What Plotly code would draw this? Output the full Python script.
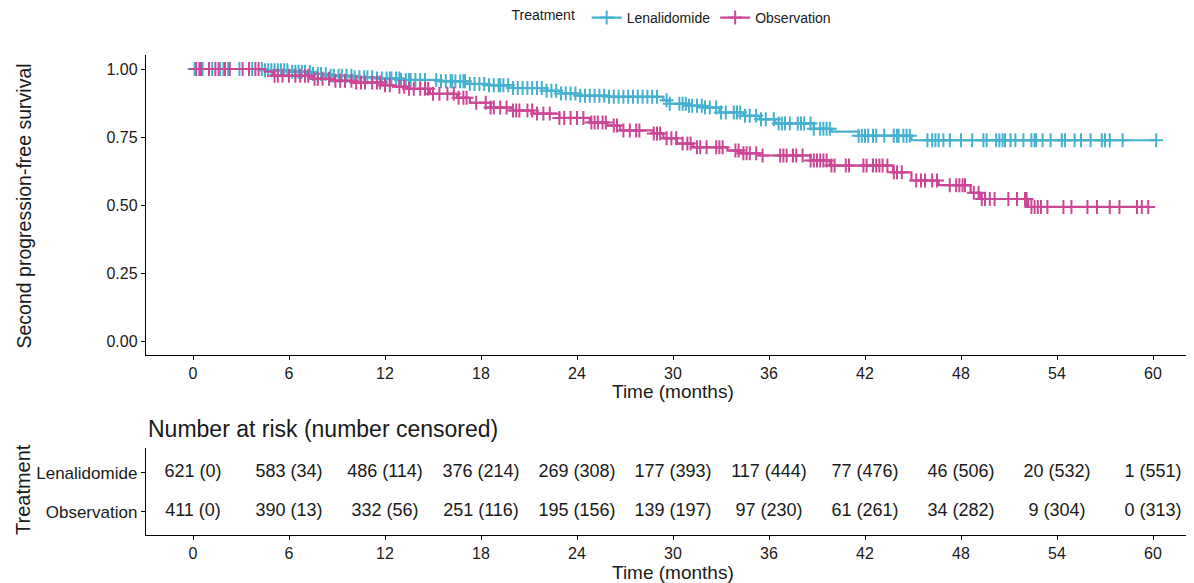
import numpy as np
import plotly.graph_objects as go

# page coordinates of the reference (the browser adds an 8px body margin)
PAGE_W, PAGE_H = 1194, 583
OFF = 8
W, H = PAGE_W - OFF, PAGE_H - OFF

# ---------------- data ----------------
groups = ["Lenalidomide", "Observation"]
colors = {"Lenalidomide": "#45B1CE", "Observation": "#CB4796"}

len_times = [0, 4.5, 6.0, 7.4, 8.5, 10.0, 11.5, 13.0, 15.4, 17.1, 18.5, 20.0, 22.1, 23.0, 24.2,
             26.0, 29.4, 29.8, 31.0, 31.9, 32.9, 34.4, 35.4, 36.4, 38.8, 39.9, 41.6, 44.9]
len_surv = [1.0, 0.995, 0.99, 0.982, 0.975, 0.97, 0.965, 0.96, 0.955, 0.945, 0.94, 0.93, 0.92, 0.91, 0.902,
            0.898, 0.885, 0.872, 0.865, 0.858, 0.84, 0.828, 0.815, 0.80, 0.78, 0.77, 0.755, 0.738]
len_end = 60.2

obs_times = [0, 4.5, 5.0, 7.4, 8.8, 10.0, 11.8, 12.5, 13.4, 14.8, 16.5, 17.3, 18.6, 20.0, 21.25,
             22.9, 24.8, 25.9, 26.7, 28.75, 29.4, 30.25, 31.25, 33.4, 34.2, 35.4, 38.6, 39.8,
             43.75, 44.9, 46.6, 48.6, 49.2, 52.2]
obs_surv = [1.0, 0.99, 0.975, 0.964, 0.957, 0.95, 0.94, 0.935, 0.927, 0.909, 0.894, 0.876, 0.858, 0.847, 0.836,
            0.82, 0.803, 0.792, 0.774, 0.763, 0.745, 0.726, 0.712, 0.70, 0.69, 0.682, 0.664, 0.645,
            0.62, 0.59, 0.573, 0.545, 0.522, 0.493]
obs_end = 59.7

len_censor = [0.1, 0.6, 1.2, 1.7, 1.9, 2.2, 2.9, 3.7,
              4.3, 4.5, 4.7, 4.9, 5.1, 5.3, 5.5, 5.7, 5.9, 6.2, 6.4, 6.6, 6.8, 7.0, 7.3, 7.5, 7.8, 8.0,
              8.3, 8.6, 8.8, 9.1, 9.3, 9.6, 9.9, 10.1, 10.4, 10.7, 10.9, 11.2, 11.5, 11.8,
              12.1, 12.3, 12.4, 12.7, 12.9, 13.0, 13.3, 13.5, 13.6, 13.9, 14.2, 14.5, 15.2, 15.5, 15.8,
              16.1, 16.2, 16.4, 16.7, 16.9, 17.0, 17.3, 17.6, 17.9, 18.2, 18.5, 18.8, 19.1, 19.2, 19.4,
              19.7, 20.0, 20.3, 20.6, 20.9, 21.2, 21.5, 21.8, 22.1, 22.4, 22.7, 23.0, 23.3, 23.6, 23.9,
              24.2, 24.5, 24.8, 25.1, 25.4, 25.7, 26.0, 26.3, 26.6, 26.9, 27.2, 27.5, 27.8, 28.1, 28.4,
              28.7, 29.0, 29.6, 29.8, 30.4, 30.6, 30.8, 31.0, 31.2, 31.5, 31.8, 32.0, 32.3, 32.7, 33.0,
              33.3, 33.8, 34.0, 34.2, 34.5, 34.8, 35.2, 35.5, 35.8, 36.3, 36.6, 36.8, 37.0, 37.3, 37.8,
              38.0, 38.2, 38.6, 38.8, 39.2, 39.4, 39.6, 39.8, 41.6, 41.8, 42.0, 42.2, 42.5, 42.7, 43.2,
              43.8, 44.0, 44.1, 44.4, 44.6, 44.8, 45.9, 46.2, 46.4, 46.6, 46.9, 47.3, 48.0, 48.7, 49.4,
              49.6, 50.2, 50.4, 50.6, 50.75, 51.1, 51.4, 51.9, 52.4, 52.6, 52.7, 53.1, 53.6, 54.3, 54.5,
              55.1, 55.5, 56.1, 56.8, 57.0, 57.3, 58.1, 60.2]

obs_censor = [0.2, 0.4, 0.5, 1.0, 1.4, 1.6, 2.0, 2.3, 3.1, 3.5, 3.9, 4.1, 5.1, 5.3, 5.6, 6.0, 6.4, 6.7,
              7.0, 7.2, 7.6, 7.8, 8.1, 8.5, 8.9, 9.2, 9.5, 9.9, 10.2, 10.5, 10.75, 11.2, 11.5, 11.7, 12.0,
              12.3, 12.9, 13.2, 13.5, 13.8, 14.2, 14.5, 14.7, 15.0, 15.4, 15.9, 16.3, 16.6, 16.9, 17.1,
              17.7, 18.3, 18.6, 18.8, 19.2, 19.6, 20.0, 20.2, 20.4, 20.9, 21.2, 21.5, 21.9, 22.3, 22.9,
              23.2, 23.6, 24.0, 24.4, 24.9, 25.1, 25.3, 25.6, 25.8, 26.3, 26.5, 26.9, 27.3, 27.7, 27.9,
              28.8, 29.0, 29.2, 29.6, 29.9, 30.2, 30.6, 30.9, 31.1, 31.5, 31.7, 32.1, 32.7, 32.9, 33.1,
              33.9, 34.1, 34.4, 34.6, 34.8, 35.2, 35.6, 36.7, 36.9, 37.1, 37.5, 37.7, 38.1, 38.6, 38.8,
              39.0, 39.2, 39.4, 39.6, 39.9, 40.1, 40.8, 41.0, 41.9, 42.1, 42.5, 42.7, 42.9, 43.1, 43.4,
              43.8, 44.0, 44.3, 45.2, 45.5, 45.75, 46.2, 46.5, 47.3, 47.7, 47.9, 48.1, 48.25, 48.8, 49.1,
              49.3, 49.5, 49.8, 50.1, 50.96, 51.5, 52.0, 52.1, 52.4, 52.6, 52.8, 53.0, 53.4, 54.4, 54.9,
              55.9, 56.5, 57.3, 57.9, 59.0, 59.3, 59.7]

risk_times = [0, 6, 12, 18, 24, 30, 36, 42, 48, 54, 60]
len_risk = [621, 583, 486, 376, 269, 177, 117, 77, 46, 20, 1]
len_cens = [0, 34, 114, 214, 308, 393, 444, 476, 506, 532, 551]
obs_risk = [411, 390, 332, 251, 195, 139, 97, 61, 34, 9, 0]
obs_cens = [0, 13, 56, 116, 156, 197, 230, 261, 282, 304, 313]

y_ticks = [0, 0.25, 0.5, 0.75, 1.0]
x_ticks = [0, 6, 12, 18, 24, 30, 36, 42, 48, 54, 60]

# ---------------- helpers ----------------
def px_x(p):
    return (p - OFF) / W

def px_y(p):
    return 1 - (p - OFF) / H

FONT = "Liberation Sans, Arial, sans-serif"
TXT = "#1a1a1a"

series = {
    "Lenalidomide": (len_times, len_surv, len_end, len_censor),
    "Observation": (obs_times, obs_surv, obs_end, obs_censor),
}

mk = lambda g: dict(symbol="cross-thin", size=10, line=dict(color=colors[g], width=2))

fig = go.Figure()
for g in groups:
    t, s, end, cens = series[g]
    xs = list(t) + [end]
    ys = list(s) + [s[-1]]
    fig.add_trace(go.Scatter(x=xs, y=ys, mode="lines", line=dict(color=colors[g], width=2.2, shape="hv"),
                             showlegend=False, hoverinfo="skip", xaxis="x", yaxis="y"))
    idx = np.searchsorted(np.array(t), np.array(cens), side="right") - 1
    cy = np.array(s)[idx]
    fig.add_trace(go.Scatter(x=cens, y=cy, mode="markers", marker=mk(g),
                             showlegend=False, hoverinfo="skip", xaxis="x", yaxis="y"))
for g in groups:
    fig.add_trace(go.Scatter(x=[None], y=[None], mode="lines+markers", name=g,
                             line=dict(color=colors[g], width=2.2), marker=mk(g),
                             xaxis="x", yaxis="y"))

# risk table
fig.add_trace(go.Scatter(x=risk_times, y=[2] * len(risk_times), mode="text",
                         text=[f"{a} ({b})" for a, b in zip(len_risk, len_cens)],
                         textfont=dict(family=FONT, size=18, color=TXT), showlegend=False,
                         hoverinfo="skip", xaxis="x2", yaxis="y2"))
fig.add_trace(go.Scatter(x=risk_times, y=[1] * len(risk_times), mode="text",
                         text=[f"{a} ({b})" for a, b in zip(obs_risk, obs_cens)],
                         textfont=dict(family=FONT, size=18, color=TXT), showlegend=False,
                         hoverinfo="skip", xaxis="x2", yaxis="y2"))

# pixel geometry (page coordinates)
x_left, x_right = 146, 1194
x0_px, x60_px = 193, 1153
ppm = (x60_px - x0_px) / 60
xr = [(x_left - x0_px) / ppm, (x_right - x0_px) / ppm]

axis_common = dict(showline=True, linecolor="black", linewidth=1.4, ticks="outside", ticklen=4,
                   tickcolor="black", tickwidth=1.2, showgrid=False, zeroline=False,
                   tickfont=dict(family=FONT, size=16, color=TXT))

fig.update_layout(
    width=W, height=H, margin=dict(l=0, r=0, t=0, b=0, autoexpand=False),
    paper_bgcolor="white", plot_bgcolor="white",
    xaxis=dict(domain=[px_x(x_left), px_x(x_right)], range=xr, tickvals=x_ticks, anchor="y", **axis_common),
    yaxis=dict(domain=[px_y(354.6), px_y(55.4)], range=[-0.05, 1.05], tickvals=y_ticks,
               ticktext=[f"{v:.2f}" for v in y_ticks], anchor="x", **axis_common),
    xaxis2=dict(domain=[px_x(x_left), px_x(x_right)], range=xr, tickvals=x_ticks, anchor="y2", **axis_common),
    yaxis2=dict(domain=[px_y(535), px_y(448)], range=[0.41, 2.64], tickvals=[1, 2],
                ticktext=["Observation", "Lenalidomide"], anchor="x2",
                **{**axis_common, "tickfont": dict(family=FONT, size=17, color=TXT)}),
    legend=dict(orientation="h", x=px_x(673), xanchor="center", y=px_y(18), yanchor="middle",
                title=dict(text="Treatment ", side="left", font=dict(family=FONT, size=14, color=TXT)),
                font=dict(family=FONT, size=14, color=TXT), itemwidth=30, bgcolor="rgba(0,0,0,0)"),
    font=dict(family=FONT, color=TXT),
)

annos = [
    dict(text="Time (months)", x=673, y=391, size=19, angle=0, xanchor="center"),
    dict(text="Time (months)", x=673, y=572, size=19, angle=0, xanchor="center"),
    dict(text="Second progression-free survival", x=23.5, y=206, size=19.5, angle=-90, xanchor="center"),
    dict(text="Treatment", x=23, y=490, size=20, angle=-90, xanchor="center"),
    dict(text="Number at risk (number censored)", x=146, y=429, size=23, angle=0, xanchor="left"),
]
for a in annos:
    fig.add_annotation(text=a["text"], x=px_x(a["x"]), y=px_y(a["y"]), xref="paper", yref="paper",
                       xanchor=a["xanchor"], yanchor="middle", textangle=a["angle"], showarrow=False,
                       font=dict(family=FONT, size=a["size"], color=TXT))

fig.write_html("out.html")
